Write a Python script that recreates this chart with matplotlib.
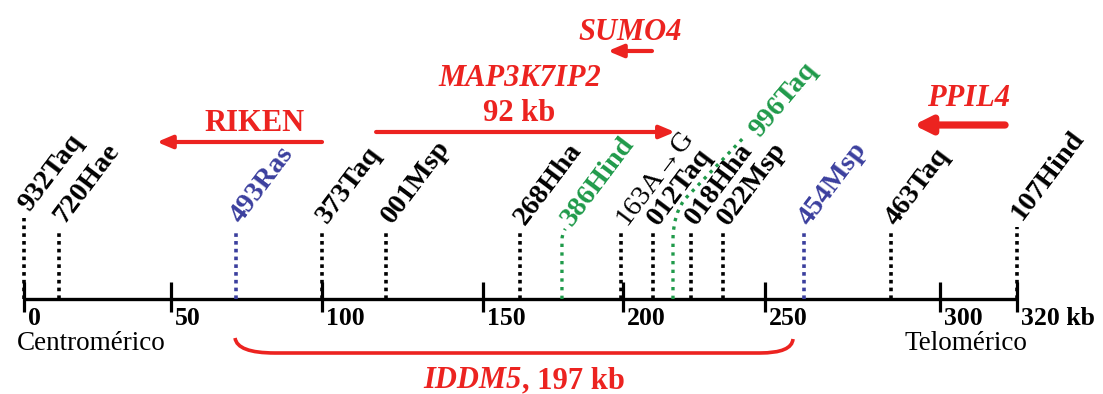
import numpy as np
import matplotlib.pyplot as plt
from matplotlib.path import Path
from matplotlib.patches import PathPatch

plt.rcParams['font.family'] = ['Liberation Serif', 'DejaVu Serif']

# ruler ticks (kb) and where they sit along the schematic drawing
tick_kb = [0, 50, 100, 150, 200, 250, 300, 320]
tick_draw = [0, 147, 298, 459, 599, 741, 916, 993]
tick_labels = ['0', '50', '100', '150', '200', '250', '300', '320 kb']

# polymorphic sites along the map
marker_names = ['932Taq', '720Hae', '493Ras', '373Taq', '001Msp', '268Hha', '163A→G',
                '012Taq', '018Hha', '022Msp', '454Msp', '463Taq', '107Hind']
marker_kb = [0, 12, 71.5, 100, 120, 163.2, 199.3, 210.6, 224, 235.2, 261.1, 286, 320]
marker_col = ['k', 'k', 'blue', 'k', 'k', 'k', 'k', 'k', 'k', 'k', 'blue', 'k', 'k']
marker_top = [81, 69, 69, 69, 69, 67, 67, 67, 67, 67, 67, 67, 72]

# the two green sites with bent leader lines
green_names = ['386Hind', '996Taq']
green_kb = [178.2, 217.6]

# genes: arrow tail -> head (kb)
genes = ['RIKEN', 'MAP3K7IP2', 'SUMO4', 'PPIL4']
gene_tail = [100, 116.8, 210.2, 316.9]
gene_head = [45.2, 218.3, 194.6, 292.5]
gene_italic = [False, True, True, True]
map3_size = '92 kb'

iddm5 = [71.2, 258]
iddm5_size = '197 kb'

RED = '#ec2320'
BLUE = '#3b3f9e'
GREEN = '#1f9a4a'
cmap = {'k': 'black', 'blue': BLUE}


def fwd(x):
    return np.interp(x, tick_kb, tick_draw)


def inv(u):
    return np.interp(u, tick_draw, tick_kb)


fig = plt.figure(figsize=(11.03, 3.94), dpi=100)
ax = fig.add_axes([24 / 1103, 0, 993 / 1103, 1])
ax.set_xscale('function', functions=(fwd, inv))
ax.set_xlim(0, 320)
ax.set_ylim(-95, 299)
ax.axis('off')

# ruler
ax.plot([0, 320], [0, 0], color='black', lw=2.4, clip_on=False, solid_capstyle='butt')
ax.vlines(tick_kb, -13, 17, color='black', lw=2.3, clip_on=False)
for k, lab in zip(tick_kb, tick_labels):
    ax.annotate(lab, (k, -8), xytext=(3, 0), textcoords='offset points',
                ha='left', va='top', fontsize=18.5, fontweight='bold', annotation_clip=False)
ax.annotate('Centromérico', (0, -45), xytext=(-5, 0), textcoords='offset points',
            ha='left', va='center', fontsize=19.5, annotation_clip=False)
ax.text(289.8, -45, 'Telomérico', ha='left', va='center', fontsize=19.5)

# sites
dots = (0, (1, 1.15))
for k, name, c, top in zip(marker_kb, marker_names, marker_col, marker_top):
    ax.plot([k, k], [0, top], color=cmap[c], lw=2.6, ls=dots,
            dash_capstyle='butt', clip_on=False)
    w = 'normal' if '→' in name else 'bold'
    ax.text(k, top + 10, name, rotation=53, rotation_mode='anchor', ha='left', va='center',
            fontsize=20.5, fontweight=w, color=cmap[c])

# green leader lines
g1 = green_kb[0]
p1 = Path([(g1, 0), (g1, 58), (g1, 66), (g1 + 1.2, 70)],
          [Path.MOVETO, Path.LINETO, Path.CURVE3, Path.CURVE3])
g2 = green_kb[1]
p2 = Path([(g2, 0), (g2, 60), (g2, 84), (221.8, 100), (243.0, 163)],
          [Path.MOVETO, Path.LINETO, Path.CURVE3, Path.CURVE3, Path.LINETO])
for p in (p1, p2):
    ax.add_patch(PathPatch(p, fill=False, ec=GREEN, lw=2.4, ls=(0, (1, 1.6)),
                           clip_on=False, zorder=4))
ax.text(g1 + 1.5, 76, green_names[0], rotation=53, rotation_mode='anchor', ha='left',
        va='center', fontsize=20.5, fontweight='bold', color=GREEN)
ax.text(246.3, 165, green_names[1], rotation=50, rotation_mode='anchor', ha='left',
        va='center', fontsize=20.5, fontweight='bold', color=GREEN)

# gene arrows
arrow_y = [157, 167, 248, 174]
label_y = [176, 221, 267, 201]
label_x = [77.5, 163.0, 202.5, 307.3]
widths = [3, 3, 3, 5.2]
for g, t, h, it, ay, ly, lx, lw in zip(genes, gene_tail, gene_head, gene_italic,
                                       arrow_y, label_y, label_x, widths):
    hs = 'head_length=0.9,head_width=0.38' if lw < 4 else 'head_length=1.0,head_width=0.5'
    ax.annotate('', xy=(h, ay), xytext=(t, ay), annotation_clip=False,
                arrowprops=dict(arrowstyle='-|>,' + hs, lw=lw, color=RED,
                                shrinkA=0, shrinkB=0, mutation_scale=10))
    ax.text(lx, ly, g, ha='center', va='center', fontsize=22, fontweight='bold',
            style='italic' if it else 'normal', color=RED)
ax.text(163.0, 186, map3_size, ha='center', va='center', fontsize=22,
        fontweight='bold', color=RED)

# IDDM5 bracket
a, b = iddm5
brace = Path([(a, -39), (a + 0.7, -54), (84.4, -54), (248.2, -54), (257.7, -54), (b, -40)],
             [Path.MOVETO, Path.CURVE3, Path.CURVE3, Path.LINETO, Path.CURVE3, Path.CURVE3])
ax.add_patch(PathPatch(brace, fill=False, ec=RED, lw=2.6, clip_on=False))
mid = inv((fwd(a) + fwd(b)) / 2 + 8)
ax.text(mid, -82, 'IDDM5', ha='right', va='center', fontsize=22, fontweight='bold',
        style='italic', color=RED)
ax.text(mid, -82, ', ' + iddm5_size, ha='left', va='center', fontsize=22,
        fontweight='bold', color=RED)

fig.savefig('out.png', dpi=100)
